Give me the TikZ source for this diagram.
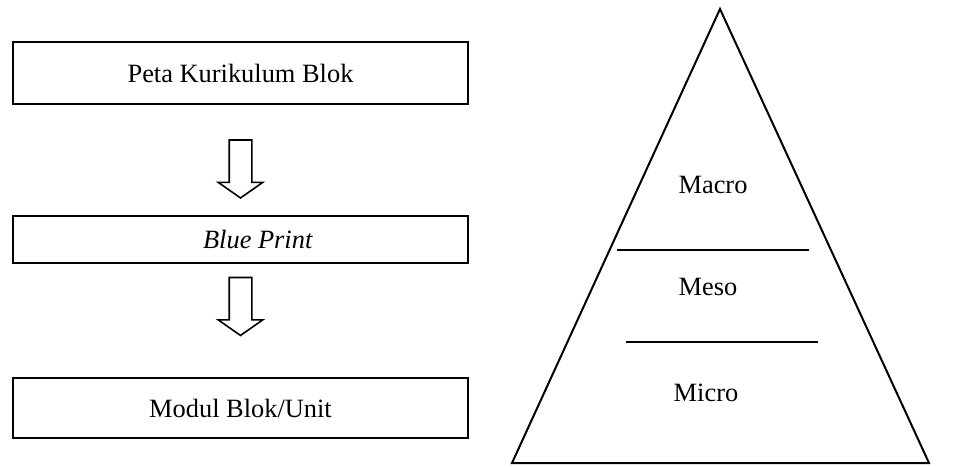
\documentclass[tikz,border=0pt]{standalone}
\usepackage{fontspec}
\setmainfont{Liberation Serif}
\usetikzlibrary{positioning,shapes.arrows}

\tikzset{
  blok/.style={draw, line width=1pt, minimum width=227.5pt, text centered, font=\fontsize{13.2}{16}\selectfont},
  panah/.style={draw, line width=0.8pt, single arrow, rotate=-90, minimum height=29pt,
    single arrow head extend=5.5pt, single arrow tip angle=110, inner xsep=0pt, inner ysep=5.25pt},
  tingkat/.style={font=\fontsize{13.2}{16}\selectfont}
}

\begin{document}
\begin{tikzpicture}[x=0.5pt,y=-0.5pt,on grid]
   \useasboundingbox (0,0) rectangle (953,466);
   \node[blok,minimum height=31pt] (peta) at (240.5,73) {Peta Kurikulum Blok};
   \node[panah] (panah1) [below=46pt of peta] {};
   \node[blok,minimum height=23.5pt] (blue) [below=83.25pt of peta] {\hspace*{17.5pt}\textit{Blue Print}};
   \node[panah] (panah2) [below=31.5pt of blue] {};
   \node[blok,minimum height=30pt] (modul) [below=84.25pt of blue] {Modul Blok/Unit};

   % piramida
   \coordinate (puncak) at (720,9);
   \coordinate (kiri) at (512,463);
   \coordinate (kanan) at (929,463);
   \draw[line width=1pt] (puncak) -- (kanan) -- (kiri) -- cycle;
   \draw[line width=1pt] (617,250) -- (809,250);
   \draw[line width=1pt] (626,342) -- (818,342);
   \node[tingkat] (macro) at (713,185) {Macro};
   \node[tingkat] (meso) at (708,287) {Meso};
   \node[tingkat] (micro) at (706,393) {Micro};
\end{tikzpicture}
\end{document}
